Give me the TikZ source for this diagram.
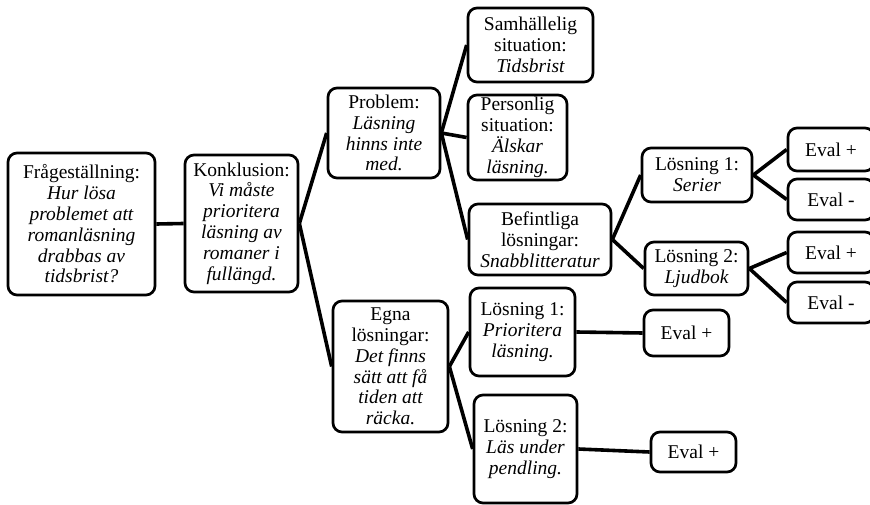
\documentclass[tikz,border=0pt]{standalone}
\usepackage{fontspec}
\setmainfont{Liberation Serif}
\begin{document}
\begin{tikzpicture}[x=1pt,y=-1pt,
  box/.style={draw, line width=2.7pt, rounded corners=9pt, inner sep=0pt, align=center,
    font=\fontsize{19.5}{20.8}\selectfont},
  conn/.style={line width=3.6pt}]
\clip (0,0) rectangle (870,505);
\fill[white] (0,0) rectangle (870,505);
\node[box, minimum width=147, minimum height=142] (fq) at (81.5,224) {Frågeställning:\\\itshape Hur lösa\\\itshape problemet att\\\itshape romanläsning\\\itshape drabbas av\\\itshape tidsbrist?};
\node[box, minimum width=113, minimum height=137] (kon) at (241.5,223.5) {Konklusion:\\\itshape Vi måste\\\itshape prioritera\\\itshape läsning av\\\itshape romaner i\\\itshape fullängd.};
\node[box, minimum width=112, minimum height=90] (prob) at (384,133) {Problem:\\\itshape Läsning\\\itshape hinns inte\\\itshape med.};
\node[box, minimum width=125, minimum height=74] (sam) at (530.5,45) {Samhällelig\\situation:\\\itshape Tidsbrist};
\node[box, minimum width=99, minimum height=85] (pers) at (517.5,137.5) {Personlig\\situation:\\\itshape Älskar\\\itshape läsning.};
\node[box, minimum width=142, minimum height=71] (bef) at (540,239.5) {Befintliga\\lösningar:\\\itshape Snabblitteratur};
\node[box, minimum width=110, minimum height=54] (la) at (697,175) {Lösning 1:\\\itshape Serier};
\node[box, minimum width=103, minimum height=53] (lb) at (696.5,268.5) {Lösning 2:\\\itshape Ljudbok};
\node[box, minimum width=86, minimum height=43] (ea) at (831,149.5) {Eval +};
\node[box, minimum width=86, minimum height=41] (eb) at (831,199.5) {Eval -};
\node[box, minimum width=86, minimum height=41] (ec) at (831,252.5) {Eval +};
\node[box, minimum width=86, minimum height=41] (ed) at (831,302.5) {Eval -};
\node[box, minimum width=115, minimum height=131] (egna) at (390.5,366.5) {Egna\\lösningar:\\\itshape Det finns\\\itshape sätt att få\\\itshape tiden att\\\itshape räcka.};
\node[box, minimum width=105, minimum height=88] (pa) at (522.5,332) {Lösning 1:\\\itshape Prioritera\\\itshape läsning.};
\node[box, minimum width=103, minimum height=108] (pb) at (525.5,449) {Lösning 2:\\\itshape Läs under\\\itshape pendling.};
\node[box, minimum width=85, minimum height=46] (pea) at (686.5,333) {Eval +};
\node[box, minimum width=85, minimum height=40] (peb) at (693.5,452) {Eval +};
\draw[conn] (fq.east) -- (kon.west);
\draw[conn] (kon.east) -- (prob.west);
\draw[conn] (kon.east) -- (egna.west);
\draw[conn] (prob.east) -- (sam.west);
\draw[conn] (prob.east) -- (pers.west);
\draw[conn] (prob.east) -- (bef.west);
\draw[conn] (bef.east) -- (la.west);
\draw[conn] (bef.east) -- (lb.west);
\draw[conn] (la.east) -- (ea.west);
\draw[conn] (la.east) -- (eb.west);
\draw[conn] (lb.east) -- (ec.west);
\draw[conn] (lb.east) -- (ed.west);
\draw[conn] (egna.east) -- (pa.west);
\draw[conn] (egna.east) -- (pb.west);
\draw[conn] (pa.east) -- (pea.west);
\draw[conn] (pb.east) -- (peb.west);
\end{tikzpicture}
\end{document}
